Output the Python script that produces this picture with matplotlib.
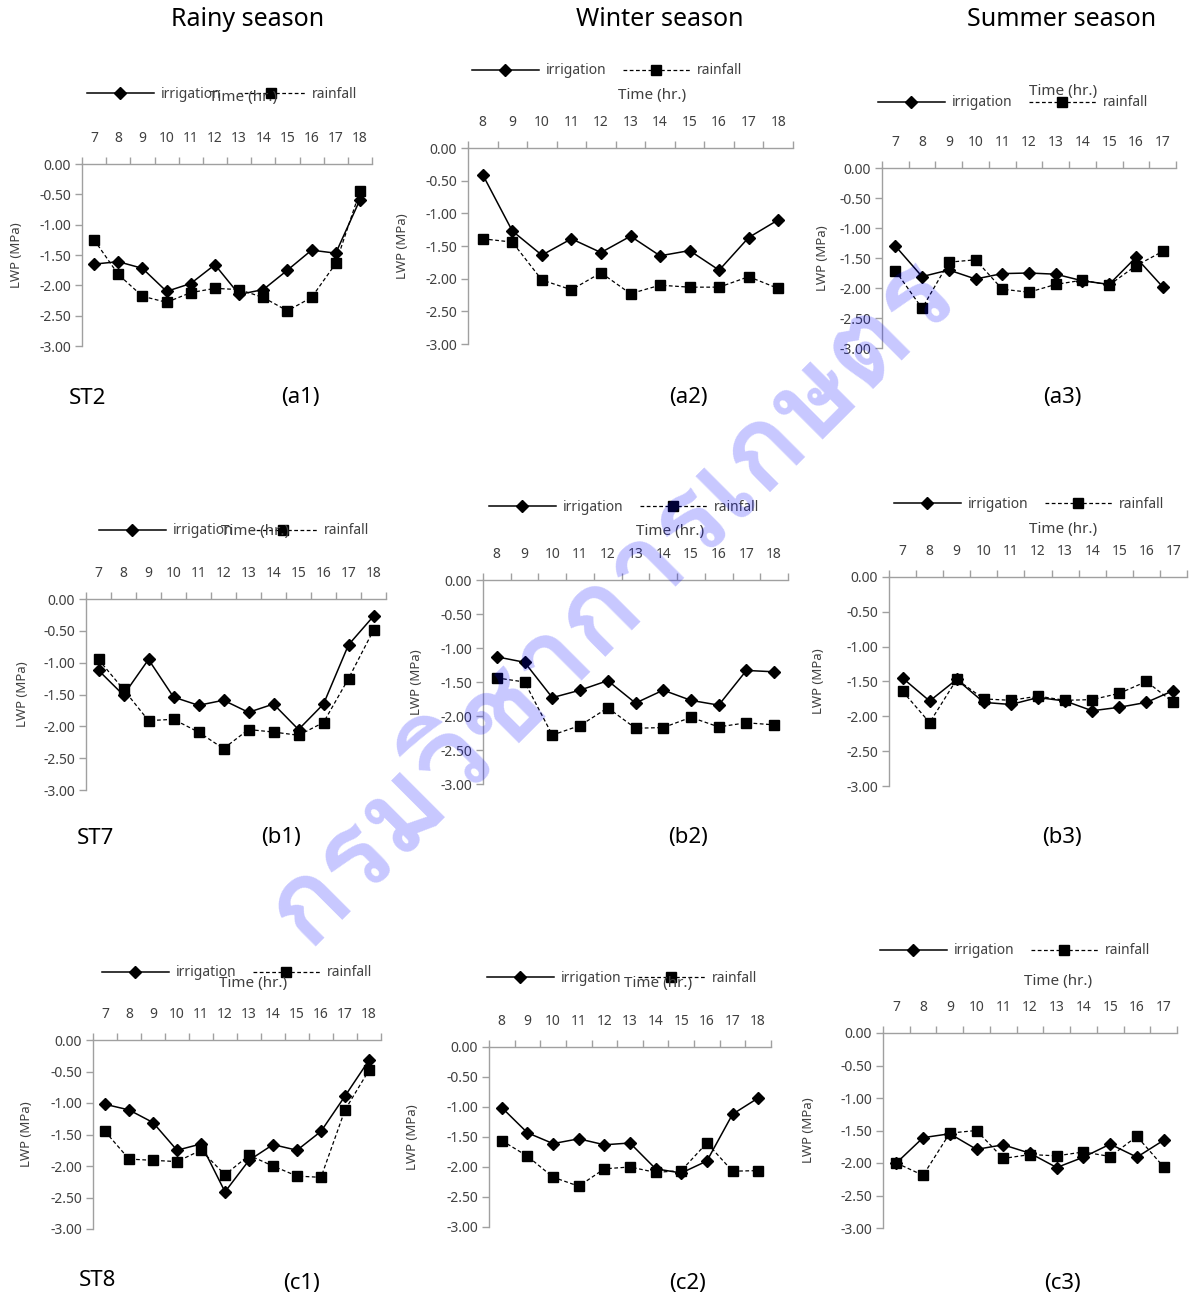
import numpy as np
import matplotlib
matplotlib.use("Agg")
import matplotlib.pyplot as plt
from matplotlib.ticker import FormatStrFormatter
from matplotlib import font_manager
from matplotlib.ft2font import FT2Font

plt.rcParams['font.family'] = ['Noto Sans', 'DejaVu Sans']

# --- data: leaf water potential (MPa) ---
hours_rainy = [7, 8, 9, 10, 11, 12, 13, 14, 15, 16, 17, 18]
hours_winter = [8, 9, 10, 11, 12, 13, 14, 15, 16, 17, 18]
hours_summer = [7, 8, 9, 10, 11, 12, 13, 14, 15, 16, 17]

irr_st2_rainy = [-1.65, -1.61, -1.72, -2.10, -1.97, -1.66, -2.15, -2.07, -1.75, -1.42, -1.47, -0.59]
rain_st2_rainy = [-1.25, -1.82, -2.18, -2.28, -2.12, -2.05, -2.07, -2.20, -2.42, -2.20, -1.64, -0.45]
irr_st2_winter = [-0.41, -1.27, -1.64, -1.39, -1.60, -1.35, -1.65, -1.57, -1.87, -1.37, -1.10]
rain_st2_winter = [-1.39, -1.44, -2.02, -2.17, -1.91, -2.23, -2.10, -2.13, -2.13, -1.97, -2.15]
irr_st2_summer = [-1.30, -1.81, -1.70, -1.85, -1.76, -1.75, -1.77, -1.88, -1.94, -1.49, -1.98]
rain_st2_summer = [-1.71, -2.34, -1.57, -1.53, -2.02, -2.07, -1.94, -1.87, -1.95, -1.63, -1.39]

irr_st7_rainy = [-1.12, -1.51, -0.95, -1.54, -1.67, -1.59, -1.78, -1.65, -2.05, -1.65, -0.72, -0.27]
rain_st7_rainy = [-0.95, -1.42, -1.91, -1.89, -2.09, -2.35, -2.05, -2.09, -2.14, -1.94, -1.25, -0.49]
irr_st7_winter = [-1.13, -1.21, -1.73, -1.62, -1.48, -1.81, -1.62, -1.77, -1.84, -1.33, -1.35]
rain_st7_winter = [-1.44, -1.50, -2.28, -2.14, -1.88, -2.18, -2.17, -2.02, -2.16, -2.10, -2.13]
irr_st7_summer = [-1.45, -1.78, -1.47, -1.80, -1.83, -1.73, -1.78, -1.92, -1.87, -1.80, -1.63]
rain_st7_summer = [-1.64, -2.09, -1.47, -1.75, -1.77, -1.71, -1.77, -1.76, -1.67, -1.50, -1.80]

irr_st8_rainy = [-1.02, -1.11, -1.31, -1.75, -1.65, -2.41, -1.91, -1.66, -1.75, -1.45, -0.89, -0.32]
rain_st8_rainy = [-1.45, -1.89, -1.91, -1.93, -1.75, -2.14, -1.83, -2.00, -2.16, -2.18, -1.11, -0.48]
irr_st8_winter = [-1.01, -1.43, -1.61, -1.53, -1.63, -1.60, -2.03, -2.10, -1.90, -1.12, -0.85]
rain_st8_winter = [-1.56, -1.82, -2.17, -2.32, -2.03, -2.00, -2.09, -2.06, -1.60, -2.07, -2.06]
irr_st8_summer = [-2.00, -1.61, -1.55, -1.79, -1.72, -1.85, -2.07, -1.91, -1.71, -1.91, -1.65]
rain_st8_summer = [-2.00, -2.19, -1.54, -1.50, -1.93, -1.87, -1.89, -1.83, -1.90, -1.59, -2.06]

y_ticks = [0.0, -0.5, -1.0, -1.5, -2.0, -2.5, -3.0]

season_titles = ["Rainy season", "Winter season", "Summer season"]
station_labels = ["ST2", "ST7", "ST8"]
panel_labels = ["(a1)", "(a2)", "(a3)", "(b1)", "(b2)", "(b3)", "(c1)", "(c2)", "(c3)"]
watermark_text = "กรมวิชาการเกษตร"

# --- layout in pixels of the 1189x1297 picture ---
W, H = 1189, 1297
AXIS = '#a0a0a0'
TXT = '#404040'

panels = [
    dict(box=(82, 164, 372, 346), legend=(222, 94), time=(243, 98), ylab=17,
         hours=hours_rainy, irr=irr_st2_rainy, rain=rain_st2_rainy),
    dict(box=(468, 148, 793, 344), legend=(607, 71), time=(652, 95), ylab=403,
         hours=hours_winter, irr=irr_st2_winter, rain=rain_st2_winter),
    dict(box=(882, 168, 1176, 348), legend=(1013, 103), time=(1063, 91), ylab=823,
         hours=hours_summer, irr=irr_st2_summer, rain=rain_st2_summer),
    dict(box=(86, 599, 386, 790), legend=(234, 531), time=(255, 532), ylab=22,
         hours=hours_rainy, irr=irr_st7_rainy, rain=rain_st7_rainy),
    dict(box=(483, 580, 788, 784), legend=(624, 507), time=(670, 532), ylab=417,
         hours=hours_winter, irr=irr_st7_winter, rain=rain_st7_winter),
    dict(box=(889, 577, 1187, 786), legend=(1029, 504), time=(1063, 530), ylab=818,
         hours=hours_summer, irr=irr_st7_summer, rain=rain_st7_summer),
    dict(box=(93, 1040, 381, 1229), legend=(237, 973), time=(253, 983), ylab=26,
         hours=hours_rainy, irr=irr_st8_rainy, rain=rain_st8_rainy),
    dict(box=(489, 1047, 771, 1227), legend=(622, 978), time=(658, 983), ylab=412,
         hours=hours_winter, irr=irr_st8_winter, rain=rain_st8_winter),
    dict(box=(883, 1033, 1177, 1228), legend=(1015, 951), time=(1058, 981), ylab=808,
         hours=hours_summer, irr=irr_st8_summer, rain=rain_st8_summer),
]

title_pos = [(248, 20), (660, 20), (1062, 20)]
station_pos = [(87, 398), (95, 838), (98, 1281)]
panel_label_pos = [(300, 398), (688, 398), (1062, 398),
                   (281, 838), (688, 838), (1062, 838),
                   (301, 1284), (688, 1284), (1062, 1284)]


def fx(x):
    return x / W


def fy(y):
    return 1 - y / H


def find_thai_font():
    # prefer a loopless Thai face, fall back to any face with Thai glyphs
    found = []
    for f in font_manager.fontManager.ttflist:
        try:
            if 0x0E01 in FT2Font(f.fname).get_charmap():
                found.append(f.name)
        except Exception:
            pass
    if not found:
        return None
    loopless = [n for n in found if 'loop' not in n.lower()]
    return (loopless or found)[0]


def draw_panel(fig, p):
    l, t, r, b = p['box']
    ax = fig.add_axes([fx(l), fy(b), (r - l) / W, (b - t) / H])

    hours = p['hours']
    n = len(hours)
    pos = np.arange(n) + 0.5

    # --- series ---
    ax.plot(pos, p['irr'], color='black', lw=1.1, marker='D', ms=6,
            label='irrigation', zorder=3)
    ax.plot(pos, p['rain'], color='black', lw=0.9, ls=(0, (3, 2)), marker='s',
            ms=7.5, label='rainfall', zorder=3)

    # --- category x axis on top ---
    ax.set_xlim(0, n)
    ax.set_ylim(-3, 0)
    ax.set_xticks(np.arange(n + 1))
    ax.set_xticklabels([])
    ax.set_xticks(pos, minor=True)
    ax.set_xticklabels([str(h) for h in hours], minor=True)
    ax.tick_params(axis='x', which='both', top=True, bottom=False,
                   labeltop=True, labelbottom=False)
    ax.tick_params(axis='x', which='major', length=5, width=1, color=AXIS)
    ax.tick_params(axis='x', which='minor', length=0, pad=13,
                   labelsize=10, labelcolor=TXT)

    ax.set_yticks(y_ticks)
    ax.yaxis.set_major_formatter(FormatStrFormatter('%.2f'))
    ax.tick_params(axis='y', length=5, width=1, color=AXIS, pad=3,
                   labelsize=10, labelcolor=TXT)

    for side in ['bottom', 'right']:
        ax.spines[side].set_visible(False)
    for side in ['top', 'left']:
        ax.spines[side].set_color(AXIS)
        ax.spines[side].set_linewidth(1)

    # --- texts around the panel ---
    fig.text(fx(p['ylab']), fy((t + b) / 2), 'LWP (MPa)', rotation=90,
             ha='center', va='center', fontsize=9.5, color=TXT)
    fig.text(fx(p['time'][0]), fy(p['time'][1]), 'Time (hr.)',
             ha='center', va='center', fontsize=11, color=TXT)

    ax.legend(loc='center', bbox_to_anchor=(fx(p['legend'][0]), fy(p['legend'][1])),
              bbox_transform=fig.transFigure, ncol=2, frameon=False,
              handlelength=4.8, handletextpad=0.5, columnspacing=1.2,
              fontsize=10, labelcolor=TXT, borderpad=0)
    return ax


fig = plt.figure(figsize=(W / 100, H / 100), dpi=100)

for p in panels:
    draw_panel(fig, p)

for txt, (x, y) in zip(season_titles, title_pos):
    fig.text(fx(x), fy(y), txt, ha='center', va='center', fontsize=18)

for txt, (x, y) in zip(station_labels, station_pos):
    fig.text(fx(x), fy(y), txt, ha='center', va='center', fontsize=16)

for txt, (x, y) in zip(panel_labels, panel_label_pos):
    fig.text(fx(x), fy(y), txt, ha='center', va='center', fontsize=16)

# --- watermark (only if a font with Thai glyphs exists) ---
thai = find_thai_font()
if thai is not None:
    fig.text(fx(612), fy(602), watermark_text, rotation=45, rotation_mode='anchor',
             ha='center', va='center', fontsize=82, color='blue', alpha=0.22,
             family=[thai], fontweight='bold', zorder=10)

fig.savefig('out.png', dpi=100)
